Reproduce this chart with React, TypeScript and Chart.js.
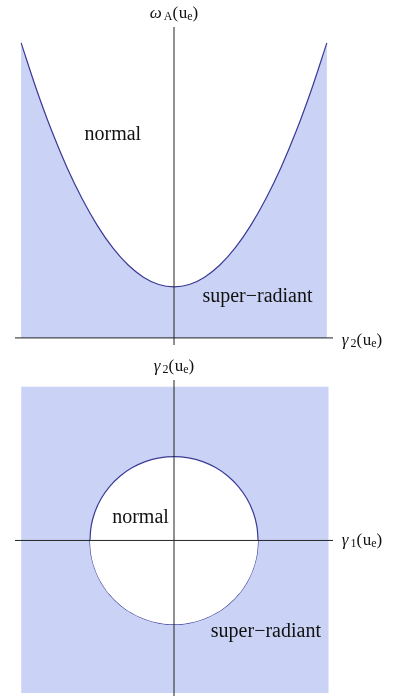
import React, { useEffect, useRef } from "react";
import { Chart, registerables } from "chart.js";

Chart.register(...registerables);

// ---- Top chart data: omega_A vs gamma_2 (parabola boundary) ----
const gammaValues = [-1, -0.9, -0.8, -0.7, -0.6, -0.5, -0.4, -0.3, -0.2, -0.1, 0, 0.1, 0.2, 0.3, 0.4, 0.5, 0.6, 0.7, 0.8, 0.9, 1];
const omegaValues = [1.0, 0.843, 0.702, 0.578, 0.471, 0.38, 0.305, 0.247, 0.206, 0.181, 0.173, 0.181, 0.206, 0.247, 0.305, 0.38, 0.471, 0.578, 0.702, 0.843, 1.0];
const topXRange = [-1.04, 1.04];
const topYRange = [-0.024, 1.054];

// ---- Bottom chart data: gamma_2 vs gamma_1 (circle boundary) ----
const circleX = [-0.55, -0.5416, -0.5168, -0.4763, -0.4213, -0.3535, -0.275, -0.1881, -0.0955, 0, 0.0955, 0.1881, 0.275, 0.3535, 0.4213, 0.4763, 0.5168, 0.5416, 0.55];
const circleUpperY = [0, 0.0955, 0.1881, 0.275, 0.3535, 0.4213, 0.4763, 0.5168, 0.5416, 0.55, 0.5416, 0.5168, 0.4763, 0.4213, 0.3535, 0.275, 0.1881, 0.0955, 0];
const circleLowerY = [0, -0.0955, -0.1881, -0.275, -0.3535, -0.4213, -0.4763, -0.5168, -0.5416, -0.55, -0.5416, -0.5168, -0.4763, -0.4213, -0.3535, -0.275, -0.1881, -0.0955, 0];
const squareX = [-1, 1.012];
const squareY = [-1.0, 1.007];
const bottomXRange = [-1.04, 1.04];
const bottomYRange = [-1.02, 1.052];

// ---- Text labels ----
const topTexts = ["ω_A(u_e)", "γ_2(u_e)", "normal", "super−radiant"];
const topTextX = [0, 1.098, -0.4, 0.546];
const topTextY = [1.1, -0.008, 0.688, 0.139];
const bottomTexts = ["γ_2(u_e)", "γ_1(u_e)", "normal", "super−radiant"];
const bottomTextX = [0, 1.098, -0.219, 0.601];
const bottomTextY = [1.141, 0.0, 0.151, -0.597];

const FILL = "rgb(202,211,245)";
const CURVE = "rgb(58,58,150)";
const AXIS = "#222222";
const SERIF = "'Liberation Serif', 'Times New Roman', serif";

type Piece = { t: string; sub: boolean; italic: boolean };

function tokenize(text: string): Piece[] {
  const out: Piece[] = [];
  for (let i = 0; i < text.length; i++) {
    const c = text[i];
    if (c === "_" && i + 1 < text.length) {
      out.push({ t: text[i + 1], sub: true, italic: false });
      i++;
    } else {
      out.push({ t: c, sub: false, italic: /[α-ω]/.test(c) });
    }
  }
  return out;
}

function drawRich(ctx: CanvasRenderingContext2D, text: string, px: number, py: number, align: string, size: number) {
  const pieces = tokenize(text);
  const subSize = Math.round(size * 0.7);
  const fontFor = (p: Piece) => `${p.italic ? "italic " : ""}${p.sub ? subSize : size}px ${SERIF}`;
  let total = 0;
  const widths: number[] = [];
  pieces.forEach((p, i) => {
    ctx.font = fontFor(p);
    let w = ctx.measureText(p.t).width;
    if (p.italic && pieces[i + 1] && pieces[i + 1].sub) w += 2;
    if (p.t === "(") w += 0.5;
    widths.push(w);
    total += w;
  });
  let x = align === "center" ? px - total / 2 : px;
  ctx.save();
  ctx.fillStyle = "#111";
  ctx.textBaseline = "middle";
  ctx.textAlign = "left";
  pieces.forEach((p, i) => {
    ctx.font = fontFor(p);
    ctx.fillText(p.t, x, py + (p.sub ? size * 0.22 : 0));
    x += widths[i];
  });
  ctx.restore();
}

function makeTextPlugin(texts: string[], xs: number[], ys: number[]) {
  return {
    id: "richText",
    afterDatasetsDraw(chart: any) {
      const ctx = chart.ctx as CanvasRenderingContext2D;
      const sx = chart.scales.x;
      const sy = chart.scales.y;
      texts.forEach((t, i) => {
        const isAxis = t.includes("_");
        const align = isAxis && xs[i] > 0.5 ? "left" : "center";
        drawRich(ctx, t, sx.getPixelForValue(xs[i]), sy.getPixelForValue(ys[i]), align, isAxis ? 17 : 20);
      });
    },
  };
}

const hiddenScales = (xr: number[], yr: number[]) => ({
  x: { type: "linear" as const, min: xr[0], max: xr[1], display: false },
  y: { type: "linear" as const, min: yr[0], max: yr[1], display: false },
});

function TopChart() {
  const ref = useRef<HTMLCanvasElement | null>(null);
  useEffect(() => {
    if (!ref.current) return;
    const chart = new Chart(ref.current, {
      type: "scatter",
      data: {
        datasets: [
          {
            data: [{ x: topXRange[0], y: 0 }, { x: topXRange[1], y: 0 }],
            showLine: true,
            borderColor: AXIS,
            borderWidth: 1,
            pointRadius: 0,
            fill: false,
            order: 1,
          },
          {
            data: [{ x: 0, y: topYRange[0] }, { x: 0, y: topYRange[1] }],
            showLine: true,
            borderColor: AXIS,
            borderWidth: 1,
            pointRadius: 0,
            fill: false,
            order: 1,
          },
          {
            data: gammaValues.map((g, i) => ({ x: g, y: omegaValues[i] })),
            showLine: true,
            borderColor: CURVE,
            borderWidth: 1.2,
            backgroundColor: FILL,
            pointRadius: 0,
            cubicInterpolationMode: "monotone",
            fill: "origin",
            order: 2,
          },
        ],
      } as any,
      options: {
        animation: false,
        responsive: true,
        maintainAspectRatio: false,
        layout: { padding: { left: 15, right: 60, top: 27, bottom: 5 } },
        scales: hiddenScales(topXRange, topYRange),
        plugins: { legend: { display: false }, tooltip: { enabled: false } },
        events: [],
      } as any,
      plugins: [makeTextPlugin(topTexts, topTextX, topTextY)],
    });
    return () => chart.destroy();
  }, []);
  return (
    <div style={{ position: "relative", width: 393, height: 350 }}>
      <canvas ref={ref} />
    </div>
  );
}

function BottomChart() {
  const ref = useRef<HTMLCanvasElement | null>(null);
  useEffect(() => {
    if (!ref.current) return;
    const chart = new Chart(ref.current, {
      type: "scatter",
      data: {
        datasets: [
          {
            data: [{ x: bottomXRange[0], y: 0 }, { x: bottomXRange[1], y: 0 }],
            showLine: true,
            borderColor: AXIS,
            borderWidth: 1,
            pointRadius: 0,
            fill: false,
            order: 1,
          },
          {
            data: [{ x: 0, y: bottomYRange[0] }, { x: 0, y: bottomYRange[1] }],
            showLine: true,
            borderColor: AXIS,
            borderWidth: 1,
            pointRadius: 0,
            fill: false,
            order: 1,
          },
          {
            data: circleX.map((cx, i) => ({ x: cx, y: circleUpperY[i] })),
            showLine: true,
            borderColor: CURVE,
            borderWidth: 1.2,
            backgroundColor: "#ffffff",
            pointRadius: 0,
            tension: 0.4,
            fill: "+1",
            order: 2,
          },
          {
            data: circleX.map((cx, i) => ({ x: cx, y: circleLowerY[i] })),
            showLine: true,
            borderColor: CURVE,
            borderWidth: 1.2,
            pointRadius: 0,
            tension: 0.4,
            fill: false,
            order: 2,
          },
          {
            data: [{ x: squareX[0], y: squareY[1] }, { x: squareX[1], y: squareY[1] }],
            showLine: true,
            borderWidth: 0,
            borderColor: "rgba(0,0,0,0)",
            backgroundColor: FILL,
            pointRadius: 0,
            fill: { value: squareY[0] },
            order: 3,
          },
        ],
      } as any,
      options: {
        animation: false,
        responsive: true,
        maintainAspectRatio: false,
        layout: { padding: { left: 15, right: 60, top: 30, bottom: 0 } },
        scales: hiddenScales(bottomXRange, bottomYRange),
        plugins: { legend: { display: false }, tooltip: { enabled: false } },
        events: [],
      } as any,
      plugins: [makeTextPlugin(bottomTexts, bottomTextX, bottomTextY)],
    });
    return () => chart.destroy();
  }, []);
  return (
    <div style={{ position: "relative", width: 393, height: 346 }}>
      <canvas ref={ref} />
    </div>
  );
}

export default function App() {
  return (
    <div style={{ position: "absolute", left: 0, top: 0, width: 393, height: 696, background: "#fff" }}>
      <TopChart />
      <BottomChart />
    </div>
  );
}
